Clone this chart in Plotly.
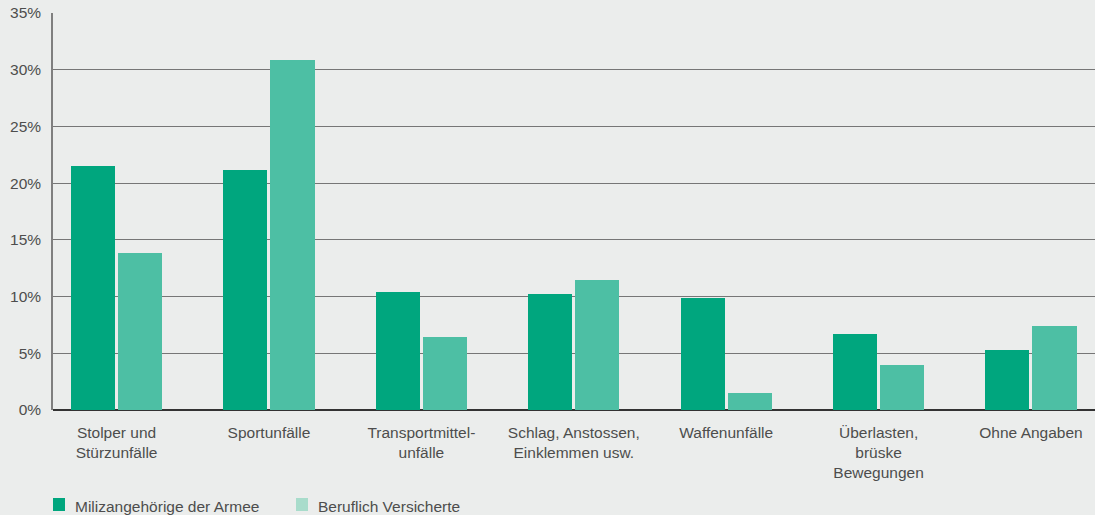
import plotly.graph_objects as go

categories = [
    "Stolper und<br>Stürzunfälle",
    "Sportunfälle",
    "Transportmittel-<br>unfälle",
    "Schlag, Anstossen,<br>Einklemmen usw.",
    "Waffenunfälle",
    "Überlasten,<br>brüske<br>Bewegungen",
    "Ohne Angaben",
]
miliz = [21.5, 21.2, 10.4, 10.2, 9.9, 6.7, 5.3]
beruflich = [13.8, 30.9, 6.4, 11.5, 1.5, 4.0, 7.4]
y_ticks = [0, 5, 10, 15, 20, 25, 30, 35]
y_labels = [f"{v}%" for v in y_ticks]

series_names = ["Milizangehörige der Armee", "Beruflich Versicherte"]
bar_colors = ["#00A67E", "#4DBFA4"]
legend_colors = ["#00A67E", "#A8DCCB"]

BG = "#EBEDEC"
TEXT = "#4D4D4D"
FONT = "Liberation Sans, Arial, sans-serif"

idx = list(range(len(categories)))

fig = go.Figure()
fig.add_trace(go.Bar(
    x=idx, y=miliz, width=0.289, offset=-0.299,
    marker=dict(color=bar_colors[0], line=dict(width=0)),
    name=series_names[0], showlegend=False,
))
fig.add_trace(go.Bar(
    x=idx, y=beruflich, width=0.289, offset=0.0098,
    marker=dict(color=bar_colors[1], line=dict(width=0)),
    name=series_names[1], showlegend=False,
))

# legend drawn as swatches with captions below the plot
PLOT_W, PLOT_H, PLOT_L, PLOT_B = 1042, 397, 53, 410
legend_x = [53, 296]
for lx, name, col in zip(legend_x, series_names, legend_colors):
    fig.add_shape(type="rect", xref="paper", yref="paper",
                  x0=(lx - PLOT_L) / PLOT_W, x1=(lx - PLOT_L + 12) / PLOT_W,
                  y0=-(511 - PLOT_B) / PLOT_H, y1=-(498 - PLOT_B) / PLOT_H,
                  fillcolor=col, line=dict(width=0))
    fig.add_annotation(xref="paper", yref="paper",
                       x=(lx - PLOT_L + 20) / PLOT_W, y=-(506 - PLOT_B) / PLOT_H,
                       text=name, showarrow=False, xanchor="left", yanchor="middle",
                       font=dict(family=FONT, size=15.5, color=TEXT))

fig.update_layout(
    width=1095, height=515,
    margin=dict(l=53, r=0, t=13, b=105),
    paper_bgcolor=BG, plot_bgcolor=BG,
    bargap=0, showlegend=False,
    font=dict(family=FONT, size=15.5, color=TEXT),
)
fig.update_xaxes(
    range=[-0.417, 6.42], tickvals=idx, ticktext=categories,
    showgrid=False, zeroline=False, showline=False,
    ticks="outside", ticklen=8, tickcolor="rgba(0,0,0,0)",
    tickfont=dict(family=FONT, size=15.5, color=TEXT),
    fixedrange=True,
)
fig.update_yaxes(
    range=[0, 35], tickvals=y_ticks, ticktext=y_labels,
    showgrid=True, gridcolor="#767676", gridwidth=1.4,
    zeroline=True, zerolinecolor="#333333", zerolinewidth=1.6,
    showline=True, linecolor="#7F7F7F", linewidth=1.5,
    ticks="outside", ticklen=7, tickcolor="rgba(0,0,0,0)",
    tickfont=dict(family=FONT, size=15.5, color=TEXT),
    fixedrange=True,
)

fig.write_html("out.html", config={"displayModeBar": False})
